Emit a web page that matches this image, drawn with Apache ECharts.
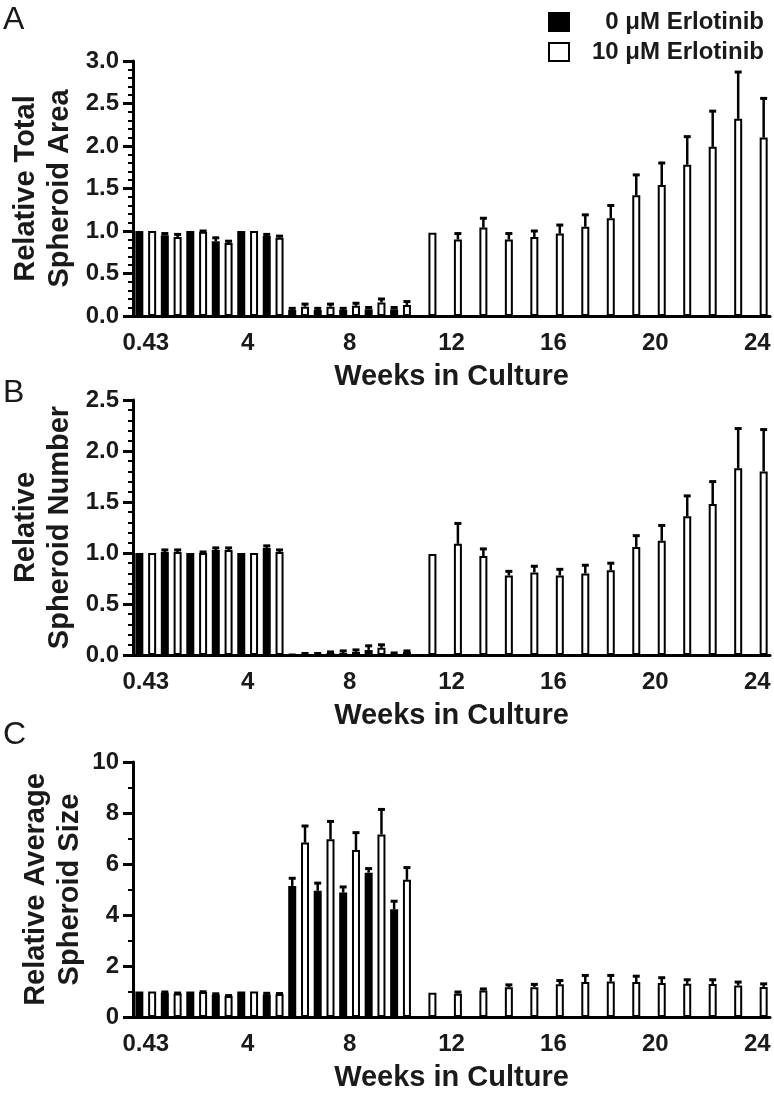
<!DOCTYPE html>
<html>
<head>
<meta charset="utf-8">
<script src="https://cdn.jsdelivr.net/npm/echarts@6/dist/echarts.min.js"></script>
<style>
  html, body { margin: 0; padding: 0; background: #fff; }
  #chart { width: 774px; height: 1093px; }
</style>
</head>
<body>
<div id="chart"></div>
<script>
// x categories (weeks in culture)
const weeks = ['0.43', '1', '2', '3', '4', '5', '6', '7', '8', '9', '10', '11', '12',
  '13', '14', '15', '16', '17', '18', '19', '20', '21', '22', '23', '24'];

// A - relative total spheroid area
const areaCtrl = [1.00, 0.95, 1.00, 0.88, 1.00, 0.94, 0.07, 0.07, 0.07, 0.08, 0.08];
const areaCtrlErr = [0, 0.02, 0, 0.04, 0, 0.02, 0.02, 0.02, 0.02, 0.02, 0.02];
const areaErl = [1.00, 0.93, 0.99, 0.86, 1.00, 0.92, 0.11, 0.11, 0.12, 0.16, 0.13,
  0.98, 0.90, 1.04, 0.90, 0.93, 0.97, 1.05, 1.15, 1.42, 1.54, 1.78, 1.99, 2.32, 2.10];
const areaErlErr = [0, 0.03, 0.01, 0.02, 0, 0.02, 0.03, 0.03, 0.03, 0.04, 0.04,
  0, 0.07, 0.11, 0.07, 0.07, 0.10, 0.14, 0.15, 0.24, 0.26, 0.33, 0.42, 0.55, 0.46];

// B - relative spheroid number
const numCtrl = [1.00, 1.01, 1.00, 1.03, 1.00, 1.05, 0.01, 0.01, 0.02, 0.05, 0.01];
const numCtrlErr = [0, 0.02, 0, 0.02, 0, 0.02, 0, 0.005, 0.02, 0.04, 0.01];
const numErl = [1.00, 1.01, 1.00, 1.03, 1.00, 1.01, 0.01, 0.02, 0.03, 0.07, 0.03,
  0.99, 1.09, 0.97, 0.78, 0.81, 0.78, 0.80, 0.83, 1.06, 1.12, 1.36, 1.48, 1.83, 1.80];
const numErlErr = [0, 0.02, 0.01, 0.02, 0, 0.02, 0.005, 0.01, 0.02, 0.03, 0.01,
  0, 0.20, 0.07, 0.04, 0.06, 0.06, 0.08, 0.07, 0.11, 0.15, 0.20, 0.22, 0.39, 0.41];

// C - relative average spheroid size
const sizeCtrl = [1.00, 0.95, 1.00, 0.88, 1.00, 0.88, 5.14, 4.95, 4.88, 5.66, 4.23];
const sizeCtrlErr = [0, 0.03, 0, 0.03, 0, 0.05, 0.30, 0.30, 0.22, 0.16, 0.31];
const sizeErl = [1.00, 0.92, 0.98, 0.82, 1.00, 0.90, 6.84, 6.97, 6.55, 7.16, 5.38,
  0.95, 0.91, 1.04, 1.17, 1.17, 1.28, 1.37, 1.39, 1.37, 1.33, 1.30, 1.29, 1.24, 1.18];
const sizeErlErr = [0, 0.02, 0.01, 0.02, 0, 0.02, 0.65, 0.70, 0.68, 0.98, 0.48,
  0, 0.07, 0.06, 0.09, 0.11, 0.15, 0.26, 0.24, 0.23, 0.21, 0.16, 0.17, 0.13, 0.12];

const yTicksA = { max: 3, interval: 0.5, minor: 5 };
const yTicksB = { max: 2.5, interval: 0.5, minor: 5 };
const yTicksC = { max: 10, interval: 2, minor: 2 };

const CTRL = '0 μM Erlotinib';
const ERL = '10 μM Erlotinib';

const FONT = "'Liberation Sans', Arial, sans-serif";
const INK = '#1a1a1a';
const BAR_W = 8;
const BAR_GAP = 0.6;
const OFF = (BAR_W + BAR_W * BAR_GAP) / 2;

const chart = echarts.init(document.getElementById('chart'));

function pad(arr) {
  const out = [];
  for (let i = 0; i < weeks.length; i++) out.push(i < arr.length ? arr[i] : null);
  return out;
}

function xAxis(idx) {
  return {
    type: 'category', gridIndex: idx, data: weeks,
    name: 'Weeks in Culture', nameLocation: 'middle', nameGap: 46,
    nameTextStyle: { fontFamily: FONT, fontSize: 29, fontWeight: 'bold', color: INK },
    axisLine: { lineStyle: { color: '#000', width: 3 } },
    axisTick: { interval: 3, alignWithLabel: true, length: 10, lineStyle: { color: '#000', width: 3 } },
    axisLabel: { interval: 3, margin: 15, fontFamily: FONT, fontSize: 24, fontWeight: 'bold', color: INK }
  };
}

function yAxis(idx, t, name, digits, gap) {
  return {
    type: 'value', gridIndex: idx, min: 0, max: t.max, interval: t.interval,
    name: name, nameLocation: 'middle', nameRotate: 90, nameGap: gap, nameMoveOverlap: false,
    nameTextStyle: { fontFamily: FONT, fontSize: 29, fontWeight: 'bold', color: INK, lineHeight: 34 },
    axisLine: { show: true, lineStyle: { color: '#000', width: 3 } },
    axisTick: { show: true, length: 10, lineStyle: { color: '#000', width: 3 } },
    minorTick: { show: true, splitNumber: t.minor, length: 5, lineStyle: { color: '#000', width: 2 } },
    splitLine: { show: false },
    axisLabel: {
      margin: 14, fontFamily: FONT, fontSize: 24, fontWeight: 'bold', color: INK,
      formatter: v => v.toFixed(digits)
    }
  };
}

function bars(idx, name, vals, fill) {
  return {
    type: 'bar', name: name, xAxisIndex: idx, yAxisIndex: idx,
    data: pad(vals), barWidth: BAR_W, barGap: (BAR_GAP * 100) + '%',
    itemStyle: { color: fill, borderColor: '#000', borderWidth: 2 },
    emphasis: { disabled: true }, z: 2
  };
}

function errors(idx, vals, errs, side) {
  const data = [];
  vals.forEach((v, i) => { if (v != null && errs[i] > 0) data.push([i, v, errs[i]]); });
  return {
    type: 'custom', name: 'err', xAxisIndex: idx, yAxisIndex: idx, data: data, z: 3,
    encode: { x: 0, y: 1 },
    renderItem: (params, api) => {
      const p0 = api.coord([api.value(0), api.value(1)]);
      const p1 = api.coord([api.value(0), api.value(1) + api.value(2)]);
      const x = p0[0] + side * OFF;
      const st = { stroke: '#000', lineWidth: 2.5 };
      return {
        type: 'group', children: [
          { type: 'line', shape: { x1: x, y1: p0[1], x2: x, y2: p1[1] }, style: st },
          { type: 'line', shape: { x1: x - 3.5, y1: p1[1], x2: x + 3.5, y2: p1[1] }, style: { stroke: '#000', lineWidth: 3 } }
        ]
      };
    }
  };
}

function letter(ch, y) {
  return { type: 'text', left: 3, top: y, style: { text: ch, font: '32px ' + FONT, fill: INK } };
}

const option = {
  animation: false,
  backgroundColor: '#fff',
  legend: {
    data: [CTRL, ERL], orient: 'vertical', left: 543, top: 5,
    icon: 'rect', itemWidth: 20, itemHeight: 18, itemGap: 6,
    formatter: n => '{r|' + n + '}',
    textStyle: {
      rich: { r: { width: 190, lineHeight: 26, align: 'right', fontFamily: FONT, fontSize: 24, fontWeight: 'bold', color: INK } }
    }
  },
  graphic: [letter('A', 4), letter('B', 377), letter('C', 719)],
  grid: [
    { left: 133, top: 61, width: 637, height: 255 },
    { left: 133, top: 400, width: 637, height: 255 },
    { left: 133, top: 762, width: 637, height: 256 }
  ],
  xAxis: [xAxis(0), xAxis(1), xAxis(2)],
  yAxis: [
    yAxis(0, yTicksA, 'Relative Total\nSpheroid Area', 1, 56),
    yAxis(1, yTicksB, 'Relative\nSpheroid Number', 1, 56),
    yAxis(2, yTicksC, 'Relative Average\nSpheroid Size', 0, 46)
  ],
  series: [
    bars(0, CTRL, areaCtrl, '#000'), bars(0, ERL, areaErl, '#fff'),
    errors(0, areaCtrl, areaCtrlErr, -1), errors(0, areaErl, areaErlErr, 1),
    bars(1, CTRL, numCtrl, '#000'), bars(1, ERL, numErl, '#fff'),
    errors(1, numCtrl, numCtrlErr, -1), errors(1, numErl, numErlErr, 1),
    bars(2, CTRL, sizeCtrl, '#000'), bars(2, ERL, sizeErl, '#fff'),
    errors(2, sizeCtrl, sizeCtrlErr, -1), errors(2, sizeErl, sizeErlErr, 1)
  ]
};

chart.setOption(option);
</script>
</body>
</html>
